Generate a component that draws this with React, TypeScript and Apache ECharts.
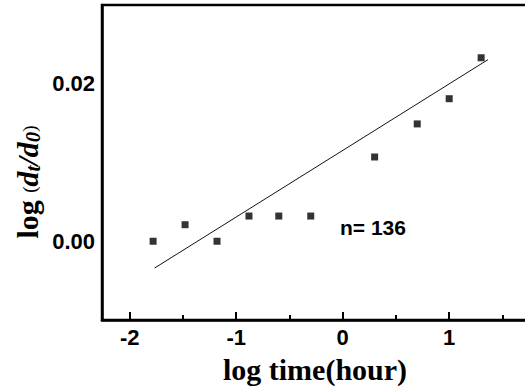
import React, { useEffect, useRef } from "react";
import * as echarts from "echarts";

// log10(time in hours)
const logTime = [-1.78, -1.48, -1.18, -0.88, -0.6, -0.3, 0.3, 0.7, 1.0, 1.3];
// log(dt/d0)
const logRatio = [0.0, 0.0021, 0.0, 0.0032, 0.0032, 0.0032, 0.0107, 0.0149, 0.0181, 0.0233];
// fitted line end points
const fitX = [-1.766, 1.364];
const fitY = [-0.0034, 0.02306];
const xMajorTicks = [-2, -1, 0, 1];
const xMinorTicks = [-1.5, -0.5, 0.5, 1.5];
const yLabels = [0.0, 0.02];
const annotation = "n= 136";

const SANS = 'Arial, "Liberation Sans", sans-serif';
const SERIF = '"Times New Roman", "Liberation Serif", serif';

export default function App() {
  const ref = useRef<HTMLDivElement>(null);
  useEffect(() => {
    if (!ref.current) return;
    const chart = echarts.init(ref.current, null, { renderer: "svg" });
    const xMin = -2.26;
    const xMax = 1.74;
    chart.setOption({
      animation: false,
      backgroundColor: "#fff",
      grid: {
        left: 102,
        top: 5,
        right: -3,
        bottom: 69,
        show: true,
        borderColor: "#000",
        borderWidth: 2.5,
        outerBoundsMode: "none",
        containLabel: false,
      },
      xAxis: [
        {
          type: "value",
          min: xMin,
          max: xMax,
          position: "bottom",
          axisLine: { show: true, onZero: false, lineStyle: { color: "#000", width: 2.5 } },
          axisTick: { show: true, inside: true, length: 8, customValues: xMajorTicks, lineStyle: { color: "#000", width: 2 } },
          axisLabel: {
            show: true,
            customValues: xMajorTicks,
            margin: 6,
            color: "#000",
            fontFamily: SANS,
            fontWeight: "bold",
            fontSize: 22,
            formatter: (v: number) => String(v),
          },
          splitLine: { show: false },
          name: "log time(hour)",
          nameLocation: "middle",
          nameGap: 34,
          nameTextStyle: { color: "#000", fontFamily: SERIF, fontWeight: "bold", fontSize: 30 },
        },
        {
          type: "value",
          min: xMin,
          max: xMax,
          position: "bottom",
          axisLine: { show: false, onZero: false },
          axisTick: { show: true, inside: true, length: 5, customValues: xMinorTicks, lineStyle: { color: "#000", width: 2 } },
          axisLabel: { show: false },
          splitLine: { show: false },
        },
      ],
      yAxis: {
        type: "value",
        min: -0.01,
        max: 0.03,
        axisLine: { show: true, onZero: false, lineStyle: { color: "#000", width: 2.5 } },
        axisTick: { show: false },
        axisLabel: {
          show: true,
          customValues: yLabels,
          margin: 7,
          color: "#000",
          fontFamily: SANS,
          fontWeight: "bold",
          fontSize: 22,
          formatter: (v: number) => v.toFixed(2),
        },
        splitLine: { show: false },
      },
      graphic: [
        {
          type: "text",
          x: 27,
          y: 182,
          rotation: Math.PI / 2,
          style: {
            text: "{a|log }{p|(}{d|d}{s|t}{d|/d}{s|0}{p|)}",
            align: "center",
            verticalAlign: "middle",
            fill: "#000",
            rich: {
              a: { fontFamily: SERIF, fontWeight: "bold", fontSize: 30, fill: "#000" },
              p: { fontFamily: SERIF, fontSize: 19, fill: "#000", padding: [4, 0, 0, 0] },
              d: { fontFamily: SERIF, fontWeight: "bold", fontStyle: "italic", fontSize: 30, fill: "#000" },
              s: { fontFamily: SERIF, fontWeight: "bold", fontStyle: "italic", fontSize: 21, fill: "#000", padding: [11, 0, 0, 0] },
            },
          },
        },
        {
          type: "text",
          x: 340,
          y: 227,
          style: {
            text: annotation,
            fontFamily: SANS,
            fontWeight: "bold",
            fontSize: 21,
            fill: "#000",
            align: "left",
            verticalAlign: "middle",
          },
        },
      ],
      series: [
        {
          type: "scatter",
          data: logTime.map((x, i) => [x, logRatio[i]]),
          symbol: "rect",
          symbolSize: 7,
          itemStyle: { color: "#000" },
        },
        {
          type: "line",
          data: fitX.map((x, i) => [x, fitY[i]]),
          symbol: "none",
          lineStyle: { color: "#111", width: 1 },
        },
      ],
    });
    return () => chart.dispose();
  }, []);
  return (
    <div
      ref={ref}
      style={{ position: "fixed", left: 0, top: 0, width: 525, height: 389, background: "#fff" }}
    />
  );
}
